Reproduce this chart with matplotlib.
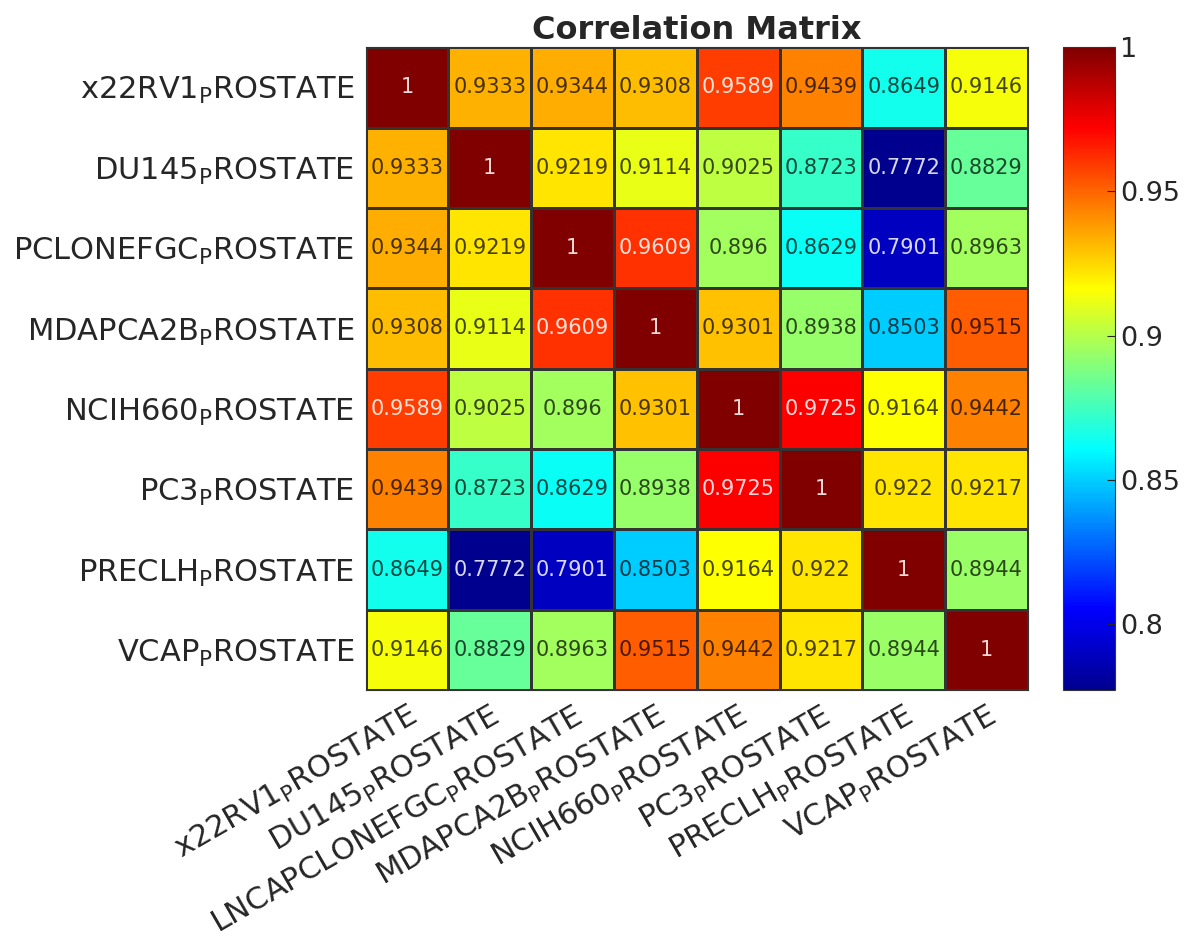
import numpy as np
import matplotlib
matplotlib.use("Agg")
import matplotlib.pyplot as plt
from matplotlib.colors import LinearSegmentedColormap

# cell lines (underscore rendered as subscript, MATLAB style)
lines = ["x22RV1", "DU145", "LNCAPCLONEFGC", "MDAPCA2B",
         "NCIH660", "PC3", "PRECLH", "VCAP"]
# row labels as they show on the left (the long one is cut in the original)
row_lines = ["x22RV1", "DU145", "PCLONEFGC", "MDAPCA2B",
             "NCIH660", "PC3", "PRECLH", "VCAP"]

corr = np.array([
    [1.0,    0.9333, 0.9344, 0.9308, 0.9589, 0.9439, 0.8649, 0.9146],
    [0.9333, 1.0,    0.9219, 0.9114, 0.9025, 0.8723, 0.7772, 0.8829],
    [0.9344, 0.9219, 1.0,    0.9609, 0.8960, 0.8629, 0.7901, 0.8963],
    [0.9308, 0.9114, 0.9609, 1.0,    0.9301, 0.8938, 0.8503, 0.9515],
    [0.9589, 0.9025, 0.8960, 0.9301, 1.0,    0.9725, 0.9164, 0.9442],
    [0.9439, 0.8723, 0.8629, 0.8938, 0.9725, 1.0,    0.9220, 0.9217],
    [0.8649, 0.7772, 0.7901, 0.8503, 0.9164, 0.9220, 1.0,    0.8944],
    [0.9146, 0.8829, 0.8963, 0.9515, 0.9442, 0.9217, 0.8944, 1.0],
])

cbar_ticks = [0.8, 0.85, 0.9, 0.95, 1.0]
cbar_labels = ["0.8", "0.85", "0.9", "0.95", "1"]

sub = r"$_\mathrm{P}$ROSTATE"
xlabels = [name + sub for name in lines]
ylabels = [name + sub for name in row_lines]
n = len(lines)

# MATLAB flavoured jet
matlab_jet = LinearSegmentedColormap("mjet", {
    "red":   [(0, 0, 0), (0.375, 0, 0), (0.625, 1, 1), (0.875, 1, 1), (1, 0.5, 0.5)],
    "green": [(0, 0, 0), (0.125, 0, 0), (0.375, 1, 1), (0.625, 1, 1), (0.875, 0, 0), (1, 0, 0)],
    "blue":  [(0, 0.5625, 0.5625), (0.125, 1, 1), (0.375, 1, 1), (0.625, 0, 0), (1, 0, 0)],
}, N=256)

fig = plt.figure(figsize=(11.91, 9.52), dpi=100)
ax = fig.add_axes([0.307, 0.275, 0.556, 0.6755])
cax = fig.add_axes([0.8925, 0.275, 0.0437, 0.6755])

vmin, vmax = corr.min(), corr.max()
mesh = ax.pcolormesh(corr, cmap=matlab_jet, vmin=vmin, vmax=vmax,
                     edgecolors="#333333", linewidth=0.8)
ax.set_xlim(0, n)
ax.set_ylim(n, 0)

for i in range(n):
    for j in range(n):
        v = corr[i, j]
        txt = "1" if v == 1 else f"{v:.4g}"
        if v > 0.955 or v < 0.8:
            col, a = "white", 0.85
        else:
            col, a = "black", 0.72
        ax.text(j + 0.5, i + 0.5, txt, ha="center", va="center",
                fontsize=15, color=col, alpha=a)

ax.set_xticks(np.arange(n) + 0.5)
ax.set_yticks(np.arange(n) + 0.5)
ax.set_xticklabels(xlabels, rotation=30, ha="right", rotation_mode="anchor",
                   fontsize=22, color="#262626")
ax.set_yticklabels(ylabels, fontsize=22, color="#262626")
ax.tick_params(length=0, pad=8)
for s in ax.spines.values():
    s.set_color("#333333")

ax.set_title("Correlation Matrix", fontsize=23, fontweight="bold",
             color="#262626", pad=6)

cb = fig.colorbar(mesh, cax=cax, ticks=cbar_ticks)
cb.ax.set_yticklabels(cbar_labels)
cb.ax.tick_params(labelsize=19.5, length=6, direction="in", colors="#262626")
cb.outline.set_edgecolor("#333333")

fig.savefig("out.png", dpi=100)
